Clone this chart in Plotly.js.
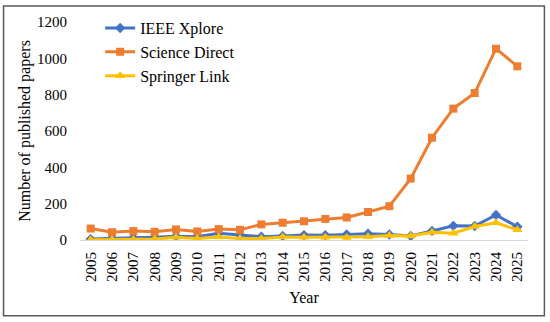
<!DOCTYPE html>
<html>
<head>
<meta charset="utf-8">
<script src="https://cdn.plot.ly/plotly-3.0.1.min.js"></script>
<style>
  html, body { margin: 0; padding: 0; background: #fff; }
  #chart { width: 550px; height: 322px; }
</style>
</head>
<body>
<div id="chart"></div>
<script>
const years = ['2005','2006','2007','2008','2009','2010','2011','2012','2013','2014','2015',
               '2016','2017','2018','2019','2020','2021','2022','2023','2024','2025'];
const ieeeXplore    = [5, 10, 12, 15, 20, 18, 37, 28, 18, 22, 27, 26, 30, 34, 30, 22, 50, 78, 77, 138, 73];
const scienceDirect = [63, 43, 49, 45, 58, 47, 60, 56, 86, 95, 103, 116, 124, 154, 186, 338, 563, 723, 809, 1053, 956];
const springerLink  = [2, 3, 3, 5, 15, 8, 17, 8, 8, 16, 15, 15, 14, 18, 25, 22, 42, 37, 74, 95, 56];
const yTicks = [0, 200, 400, 600, 800, 1000, 1200];

const font = 'Liberation Serif, Times New Roman, serif';

const traces = [
  { x: years, y: ieeeXplore, name: 'IEEE Xplore', type: 'scatter', mode: 'lines+markers',
    line: { color: '#4472C4', width: 3 }, marker: { symbol: 'diamond', size: 8, color: '#4472C4' } },
  { x: years, y: scienceDirect, name: 'Science Direct', type: 'scatter', mode: 'lines+markers',
    line: { color: '#ED7D31', width: 3 }, marker: { symbol: 'square', size: 8, color: '#ED7D31' } },
  { x: years, y: springerLink, name: 'Springer Link', type: 'scatter', mode: 'lines+markers',
    line: { color: '#FFC000', width: 3 }, marker: { symbol: 'triangle-up', size: 9, color: '#FFC000' } }
];

const layout = {
  width: 550, height: 322,
  margin: { l: 80, r: 22, t: 21, b: 82, pad: 0 },
  paper_bgcolor: '#fff', plot_bgcolor: '#fff',
  font: { family: font, size: 15, color: '#000' },
  showlegend: true,
  legend: { x: 0.045, y: 1.045, xanchor: 'left', yanchor: 'top', bgcolor: 'rgba(0,0,0,0)',
            font: { family: font, size: 16, color: '#000' }, tracegroupgap: 0, itemwidth: 30 },
  xaxis: {
    type: 'category', range: [-0.5, 20.5], tickangle: -90,
    showgrid: false, zeroline: false, showline: true, linecolor: '#d9d9d9', linewidth: 1,
    ticks: '', ticklabelstandoff: 5,
    tickfont: { family: font, size: 15, color: '#000' },
    title: { text: 'Year', font: { family: font, size: 16, color: '#000' }, standoff: 10 }
  },
  yaxis: {
    range: [0, 1200], tickvals: yTicks, ticktext: yTicks.map(String),
    showgrid: false, zeroline: false, showline: false, ticks: '', ticklabelstandoff: 12,
    tickfont: { family: font, size: 15, color: '#000' },
    title: { text: 'Number of published papers', font: { family: font, size: 16, color: '#000' }, standoff: 2 }
  },
  shapes: [{
    type: 'rect', xref: 'paper', yref: 'paper',
    x0: -0.1707, x1: 1.0366, y0: -0.347, y1: 1.073,
    line: { color: '#595959', width: 1.5 }, fillcolor: 'rgba(0,0,0,0)', layer: 'below'
  }]
};

Plotly.newPlot('chart', traces, layout, { displayModeBar: false, staticPlot: true });
</script>
</body>
</html>
